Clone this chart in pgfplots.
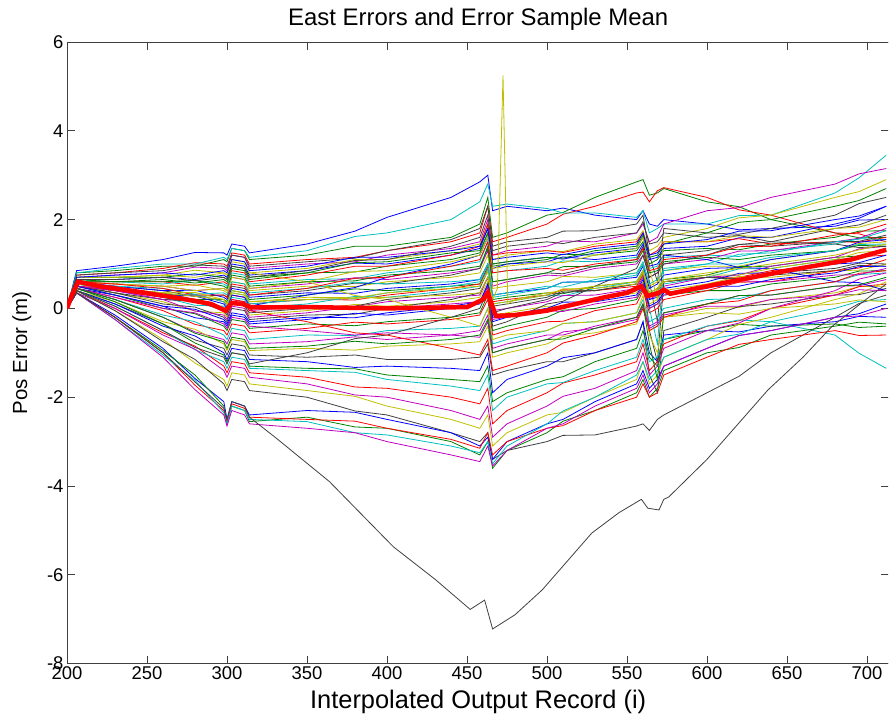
\documentclass[border=0pt]{standalone}
\usepackage{pgfplots}
\pgfplotsset{compat=1.18}
\usepackage{pgfplotstable}
\usepackage{fontspec}
\setmainfont{Liberation Sans}
\definecolor{mb}{rgb}{0,0,1}
\definecolor{mg}{rgb}{0,0.5,0}
\definecolor{mr}{rgb}{1,0,0}
\definecolor{mc}{rgb}{0,0.75,0.75}
\definecolor{mm}{rgb}{0.75,0,0.75}
\definecolor{my}{rgb}{0.75,0.75,0}
\definecolor{mk}{rgb}{0.25,0.25,0.25}
\pgfplotstableread{
id 200 206 230 260 280 298 300 303 311 314 350 380 400 440 458 463 466 475 500 510 530 556 560 564 569 573 600 620 640 680 695 712
L1 0 0.85 0.95 1.1 1.26 1.25 1.2 1.45 1.4 1.25 1.45 1.74 2.05 2.5 2.85 3.0 2.2 2.3 2.2 2.26 2.1 2.0 2.2 1.9 1.85 2.0 1.9 1.77 1.8 1.85 1.99 2.0
L2 0 0.8 0.85 0.95 0.95 1.1 1.05 1.35 1.3 1.1 1.2 1.40 1.4 1.6 1.9 2.5 1.6 1.7 2.1 2.16 2.5 2.85 2.9 2.55 2.6 2.7 2.4 2.29 2.0 1.7 1.59 1.6
L3 0 0.75 0.8 0.9 1.03 1.0 0.95 1.25 1.2 1.0 1.1 1.15 1.3 1.5 1.7 2.3 1.5 1.6 1.9 2.12 2.3 2.6 2.62 2.4 2.65 2.72 2.5 2.22 2.1 1.7 1.68 1.5
L4 0 0.8 0.9 1.0 1.0 1.15 1.1 1.35 1.3 1.15 1.3 1.62 1.7 2.0 2.4 2.8 2.3 2.35 2.25 2.15 2.15 2.05 2.2 1.7 1.8 1.9 1.9 2.09 2.1 2.6 2.94 3.45
L5 0 0.7 0.75 0.8 0.93 0.9 0.85 1.2 1.15 0.9 1.0 1.05 1.2 1.35 1.5 2.0 1.2 1.3 1.4 1.52 1.5 1.7 1.9 1.5 1.6 1.9 2.2 2.27 2.5 2.8 3.03 3.15
L6 0 0.7 0.7 0.75 0.70 0.8 0.75 1.1 1.05 0.8 0.9 1.10 1.1 1.3 1.45 1.9 1.1 1.2 1.3 1.28 1.45 1.55 1.75 1.3 1.4 1.6 1.8 2.04 2.1 2.5 2.63 2.9
L7 0 0.75 0.8 0.85 0.98 0.95 0.9 1.2 1.15 0.95 1.05 1.13 1.3 1.55 1.8 2.3 1.4 1.5 1.6 1.74 1.75 1.9 2.1 1.2 0.6 1.8 1.7 1.67 1.8 2.1 2.36 2.5
L8 0 0.65 0.65 0.7 0.65 0.75 0.7 1.0 0.95 0.75 0.85 1.02 1.0 1.2 1.35 1.8 1.0 1.05 1.15 1.11 1.25 1.35 1.6 1.1 1.15 1.35 1.4 1.59 1.6 1.9 2.03 2.3
L9 0 0.7 0.7 0.7 0.78 0.7 0.65 0.95 0.9 0.7 0.8 0.82 0.95 1.1 1.25 1.7 0.95 1.0 1.1 1.22 1.2 1.3 1.5 1.0 1.1 1.3 1.35 1.32 1.45 1.6 1.74 1.75
L10 0 0.6 0.6 0.6 0.52 0.6 0.55 0.85 0.8 0.6 0.75 0.95 0.95 1.2 1.4 1.9 1.2 1.25 1.3 1.26 1.4 1.5 1.7 1.2 1.3 1.5 1.5 1.57 1.45 1.5 1.49 1.6
L11 0 0.65 0.6 0.55 0.63 0.55 0.5 0.8 0.75 0.55 0.65 0.67 0.8 0.95 1.05 1.5 0.8 0.85 0.95 1.07 1.05 1.15 1.35 0.9 0.95 1.15 1.2 1.17 1.3 1.45 1.57 1.55
L12 0 0.6 0.55 0.5 0.40 0.45 0.4 0.7 0.65 0.45 0.55 0.69 0.65 0.8 0.9 1.3 0.5 0.6 0.75 0.73 0.9 1.0 1.2 0.7 0.8 1.0 1.1 1.29 1.3 1.5 1.58 1.8
L13 0 0.6 0.55 0.5 0.53 0.4 0.35 0.6 0.55 0.4 0.5 0.49 0.6 0.7 0.8 1.2 0.45 0.5 0.6 0.72 0.7 0.8 1.0 0.5 0.6 0.85 0.95 0.95 1.1 1.3 1.46 1.5
L14 0 0.55 0.5 0.4 0.27 0.3 0.25 0.5 0.45 0.3 0.4 0.57 0.55 0.75 0.9 1.4 0.6 0.65 0.8 0.78 0.95 1.1 1.4 0.6 -0.3 1.2 1.3 1.44 1.4 1.5 1.51 1.65
L15 0 0.6 0.5 0.4 0.41 0.25 0.2 0.45 0.4 0.25 0.35 0.34 0.45 0.55 0.65 1.0 0.3 0.35 0.45 0.59 0.6 0.7 0.95 0.45 0.55 0.75 0.9 0.92 1.1 1.3 1.49 1.55
L16 0 0.55 0.45 0.35 0.20 0.2 0.15 0.4 0.35 0.2 0.3 0.44 0.4 0.5 0.55 0.9 0.2 0.25 0.35 0.33 0.5 0.6 0.85 0.35 0.45 0.65 0.75 0.94 0.95 1.15 1.18 1.35
L17 0 0.5 0.45 0.3 0.31 0.15 0.05 0.3 0.25 0.1 0.2 0.19 0.3 0.45 0.55 0.95 0.15 0.2 0.3 0.42 0.4 0.5 0.75 0.3 0.4 0.6 0.7 0.70 0.85 1.0 1.16 1.2
L18 0 0.55 0.4 0.25 0.07 0.05 -0.05 0.25 0.2 0.0 0.1 0.27 0.25 0.4 0.5 0.9 0.1 0.15 0.3 0.28 0.45 0.6 0.85 0.3 0.35 0.55 0.7 0.89 0.9 1.1 1.13 1.3
L19 0 0.5 0.4 0.2 0.18 0.0 -0.1 0.2 0.15 -0.05 0.05 0.04 0.15 0.25 0.3 0.7 -0.05 0.0 0.15 0.29 0.3 0.45 0.7 0.2 0.3 0.5 0.7 0.75 0.95 1.15 1.34 1.4
L20 0 0.5 0.35 0.15 -0.06 -0.1 -0.2 0.1 0.05 -0.15 -0.05 0.09 0.05 0.15 0.25 0.6 -0.15 -0.1 0.05 0.03 0.2 0.35 0.6 0.1 0.2 0.4 0.55 0.72 0.7 0.85 0.86 1.0
L21 0 0.5 0.35 0.1 0.03 -0.2 -0.3 0.0 -0.05 -0.25 -0.15 -0.13 0.0 0.2 0.35 0.7 -0.1 0.0 0.2 0.36 0.4 0.55 0.8 -0.5 -1.2 0.6 0.7 0.65 0.75 0.85 0.97 0.95
L22 0 0.45 0.3 0.05 -0.21 -0.3 -0.4 -0.15 -0.2 -0.35 -0.25 -0.11 -0.15 0.0 0.1 0.5 -0.3 -0.2 0.0 0.0 0.2 0.4 0.65 0.2 0.25 0.45 0.6 0.79 0.8 1.0 1.03 1.2
L23 0 0.5 0.3 0.0 -0.12 -0.4 -0.5 -0.25 -0.3 -0.45 -0.35 -0.39 -0.3 -0.2 -0.1 0.3 -0.5 -0.4 -0.2 -0.04 0.0 0.2 0.45 0.0 0.1 0.3 0.4 0.40 0.55 0.7 0.84 0.85
L24 0 0.45 0.25 -0.05 -0.36 -0.5 -0.6 -0.35 -0.4 -0.55 -0.45 -0.31 -0.35 -0.25 -0.15 0.2 -0.6 -0.5 -0.3 -0.29 -0.05 0.1 0.4 -0.1 0.0 0.2 0.4 0.59 0.6 0.85 0.91 1.1
L25 0 0.45 0.2 -0.15 -0.30 -0.6 -0.7 -0.45 -0.5 -0.7 -0.6 -0.61 -0.5 -0.45 -0.4 0.0 -0.8 -0.7 -0.5 -0.34 -0.3 -0.1 0.2 -0.3 -0.2 0.0 0.2 0.22 0.4 0.6 0.76 0.8
L26 0 0.45 0.2 -0.2 -0.53 -0.7 -0.8 -0.55 -0.6 -0.8 -0.75 -0.64 -0.7 -0.6 -0.5 -0.15 -0.9 -0.8 -0.6 -0.60 -0.4 -0.2 0.1 -0.4 -0.3 -0.1 0.1 0.29 0.3 0.5 0.51 0.65
L27 0 0.4 0.15 -0.3 -0.47 -0.8 -0.95 -0.7 -0.75 -0.95 -0.9 -0.94 -0.85 -0.8 -0.75 -0.4 -1.1 -1.0 -0.8 -0.63 -0.55 -0.35 0.0 -0.5 -0.4 -0.2 0.0 0.02 0.2 0.35 0.49 0.5
L28 0 0.4 0.1 -0.35 -0.71 -0.9 -1.05 -0.8 -0.85 -1.05 -1.1 -1.05 -1.15 -1.15 -1.1 -0.8 -1.5 -1.4 -1.2 -1.20 -1.0 -0.7 -0.3 -1.5 -1.9 -0.5 -0.2 0.04 0.1 0.3 0.31 0.45
L29 0 0.4 0.1 -0.4 -0.62 -1.0 -1.15 -0.9 -0.95 -1.15 -1.2 -1.33 -1.3 -1.35 -1.4 -1.0 -1.9 -1.6 -1.3 -1.11 -1.0 -0.7 -0.3 -1.0 -1.2 -0.6 -0.5 -0.53 -0.4 -0.3 -0.18 -0.2
L30 0 0.45 0.15 -0.35 -0.78 -1.05 -1.2 -1.0 -1.05 -1.3 -1.35 -1.36 -1.5 -1.6 -1.65 -1.3 -2.1 -1.9 -1.6 -1.54 -1.2 -0.9 -0.5 -1.1 -1.3 -0.7 -0.5 -0.36 -0.4 -0.35 -0.43 -0.4
L31 0 0.4 0.0 -0.55 -0.85 -1.3 -1.45 -1.2 -1.25 -1.45 -1.55 -1.77 -1.8 -2.0 -2.15 -1.8 -2.6 -2.3 -1.9 -1.68 -1.5 -1.2 -0.8 -1.4 -1.2 -0.8 -0.4 -0.28 0.0 0.3 0.49 0.55
L32 0 0.4 0.05 -0.5 -0.93 -1.2 -1.35 -1.1 -1.15 -1.35 -1.4 -1.44 -1.6 -1.75 -1.85 -1.5 -2.3 -2.0 -1.7 -1.67 -1.4 -1.1 -0.7 -1.2 -1.1 -0.7 -0.4 -0.26 -0.3 -0.6 -1.01 -1.35
L33 0 0.35 0.0 -0.6 -0.92 -1.4 -1.55 -1.3 -1.35 -1.55 -1.7 -1.95 -2.0 -2.3 -2.5 -2.2 -2.9 -2.6 -2.2 -1.98 -1.8 -1.4 -1.0 -1.5 -1.3 -0.9 -0.5 -0.33 0.0 0.4 0.66 0.8
L34 0 0.4 -0.05 -0.7 -1.23 -1.6 -1.75 -1.45 -1.5 -1.7 -1.85 -1.98 -2.2 -2.5 -2.7 -2.4 -3.1 -2.8 -2.4 -2.34 -2.0 -1.6 -1.2 -1.7 -1.5 -1.1 -0.7 -0.36 -0.2 0.2 0.33 0.6
L35 0 0.4 -0.05 -0.75 -1.15 -1.7 -1.85 -1.6 -1.65 -1.85 -2.0 -2.31 -2.4 -2.8 -3.0 -2.8 -3.4 -3.2 -3.0 -2.86 -2.85 -2.65 -2.6 -2.75 -2.5 -2.4 -1.9 -1.53 -1.0 -0.2 0.11 0.3
L36 0 0.35 -0.15 -0.9 -1.58 -2.1 -2.5 -2.1 -2.2 -2.4 -2.3 -2.34 -2.5 -2.8 -3.1 -2.9 -3.4 -3.0 -2.6 -2.50 -2.1 -1.7 -1.4 -1.8 -1.6 -1.3 -0.9 -0.61 -0.5 -0.2 -0.12 0.1
L37 0 0.35 -0.2 -0.95 -1.50 -2.2 -2.6 -2.2 -2.3 -2.55 -2.45 -2.67 -2.7 -3.0 -3.3 -3.0 -3.6 -3.2 -2.8 -2.54 -2.3 -1.9 -1.6 -2.0 -1.8 -1.4 -1.0 -0.88 -0.6 -0.4 -0.31 -0.35
L38 0 0.35 -0.2 -1.0 -1.73 -2.3 -2.55 -2.15 -2.25 -2.45 -2.5 -2.54 -2.7 -2.95 -3.15 -2.8 -3.3 -3.0 -2.7 -2.64 -2.3 -2.0 -1.7 -2.0 -1.9 -1.5 -1.1 -0.81 -0.7 -0.5 -0.61 -0.6
L39 0 0.35 -0.25 -1.05 -1.62 -2.35 -2.6 -2.2 -2.3 -2.5 -2.55 -2.80 -2.85 -3.1 -3.25 -3.0 -3.5 -3.1 -2.6 -2.31 -2.0 -1.5 -1.2 -1.6 -1.4 -1.1 -0.7 -0.58 -0.3 0.0 0.16 0.2
L40 0 0.35 -0.25 -1.1 -1.83 -2.4 -2.65 -2.3 -2.4 -2.6 -2.7 -2.80 -3.0 -3.3 -3.45 -3.1 -3.55 -3.2 -2.7 -2.60 -2.2 -1.8 -1.5 -1.9 -1.7 -1.3 -0.9 -0.61 -0.5 -0.2 -0.17 0.0
L41 0 0.7 0.7 0.75 0.86 0.8 0.75 1.05 1.0 0.8 0.6 0.29 0.2 -0.2 -0.4 0.0 -0.7 -0.6 -0.5 -0.34 -0.3 -0.1 0.3 -0.6 -1.0 -0.2 -0.1 -0.13 0.0 0.1 0.19 0.15
L42 0 0.4 0.05 -0.5 -0.88 -1.1 -1.25 -1.0 -1.05 -1.25 -1.0 -0.68 -0.6 -0.2 0.0 0.4 -0.4 -0.3 0.1 0.16 0.5 0.9 1.2 0.7 0.8 1.0 1.2 1.44 1.5 1.8 1.88 2.1
L43 0 0.55 0.45 0.3 0.28 0.1 0.0 0.3 0.25 0.05 0.3 0.47 0.7 1.0 1.2 1.6 0.9 1.0 1.05 1.16 1.1 1.2 1.45 0.95 1.0 1.2 1.1 0.92 0.9 0.6 0.58 0.4
L44 0 0.6 0.6 0.65 0.57 0.65 0.6 0.9 0.85 0.65 0.8 1.03 1.05 1.25 1.3 1.7 1.0 1.05 1.15 1.13 1.3 1.4 1.65 1.15 1.2 1.45 1.7 1.94 2.0 2.3 2.43 2.7
L45 0 0.5 0.4 0.25 0.21 0.0 -0.1 0.2 0.15 -0.05 -0.3 -0.55 -0.6 -0.9 -1.05 -0.7 -1.4 -1.3 -1.0 -0.78 -0.6 -0.3 0.0 -0.5 -0.4 -0.2 0.1 0.17 0.4 0.6 0.79 0.85
L46 0 0.55 0.5 0.45 0.32 0.35 0.3 0.6 0.55 0.35 0.45 0.59 0.55 0.6 0.65 1.0 0.3 0.35 0.5 0.48 0.65 0.8 1.05 0.55 0.65 0.85 1.0 1.22 1.25 1.5 1.56 1.75
L47 0 0.45 0.25 0.0 -0.10 -0.35 -0.45 -0.2 -0.25 -0.4 -0.5 -0.60 -0.55 -0.6 -0.65 -0.3 -1.0 -0.9 -0.7 -0.53 -0.45 -0.25 0.05 -0.45 -0.35 -0.15 0.05 0.05 0.2 0.3 0.42 0.4
L48 0 0.6 0.55 0.5 0.40 0.45 0.4 0.7 0.65 0.45 0.6 0.83 0.85 1.05 1.2 1.6 0.9 0.95 1.05 1.03 1.2 1.35 1.6 0.9 0.2 1.5 1.5 1.64 1.6 1.8 1.83 2.0
L49 0 0.5 0.35 0.2 0.16 -0.05 -0.15 0.1 0.05 -0.1 0.0 0.05 0.2 0.35 0.45 0.85 0.05 0.1 0.25 0.39 0.4 0.55 0.8 0.3 0.4 0.6 0.7 0.67 0.8 0.9 1.02 1.0
L50 0 0.7 0.75 0.8 0.75 0.85 0.8 1.1 1.05 0.85 0.95 1.15 1.15 1.3 1.4 1.8 1.1 1.15 1.25 1.21 1.35 1.45 1.7 1.2 1.25 1.45 1.55 1.74 1.75 2.0 2.08 2.3
L51 0 0.65 0.6 0.6 0.63 0.5 0.45 0.75 0.7 0.5 0.6 0.62 0.75 0.85 0.95 1.35 0.6 0.65 0.8 0.94 0.95 1.05 1.3 0.8 0.85 1.05 1.15 1.10 1.2 1.3 1.42 1.4
L52 0 0.6 0.55 0.45 0.30 0.3 0.25 0.55 0.5 0.3 0.45 0.68 0.7 0.95 1.1 1.5 0.8 0.85 0.9 0.86 1.0 1.1 1.35 0.85 0.9 1.1 1.2 1.39 1.4 1.65 1.71 1.9
L53 0 0.55 0.45 0.3 0.31 0.15 0.05 0.35 0.3 0.1 0.2 0.22 0.35 0.5 0.6 1.0 0.25 0.3 0.45 0.59 0.6 0.75 1.0 0.0 -0.8 0.9 1.0 1.0 1.15 1.3 1.44 1.45
L54 0 0.5 0.4 0.2 -0.06 -0.15 -0.25 0.05 0.0 -0.2 -0.1 0.04 0.0 0.1 0.15 0.5 -0.25 -0.2 -0.05 -0.07 0.1 0.25 0.5 0.0 0.1 0.3 0.45 0.62 0.6 0.75 0.76 0.9
L55 0 0.55 0.45 0.35 0.36 0.2 0.1 0.4 0.35 0.15 0.25 0.24 0.35 0.45 0.5 0.85 0.1 0.15 0.3 0.44 0.45 0.55 0.8 0.3 0.4 0.6 0.75 0.75 0.9 1.1 1.26 1.3
L56 0 0.65 0.65 0.7 0.62 0.7 0.65 0.95 0.9 0.7 0.85 1.08 1.1 1.4 1.6 2.1 1.3 1.4 1.5 1.46 1.6 1.7 1.95 1.45 1.5 1.7 1.6 1.64 1.5 1.45 1.37 1.4
L57 0 0.5 0.3 0.05 -0.02 -0.25 -0.35 -0.1 -0.15 -0.3 -0.2 -0.21 -0.1 0.05 0.15 0.55 -0.2 -0.15 0.0 0.14 0.15 0.3 0.55 0.05 0.15 0.35 0.5 0.50 0.65 0.8 0.94 0.95
L58 0 0.45 0.2 -0.2 -0.56 -0.75 -0.9 -0.65 -0.7 -0.9 -0.85 -0.74 -0.8 -0.7 -0.6 -0.25 -1.0 -0.9 -0.7 -0.69 -0.45 -0.2 0.1 -0.8 -1.6 -0.1 0.1 0.29 0.3 0.5 0.53 0.7
}\raw
\pgfplotstabletranspose[colnames from=id]\data\raw
\begin{document}
\begin{tikzpicture}
\useasboundingbox (0,0) rectangle (889bp,721bp);
\clip (0,0) rectangle (888bp,721bp);
\begin{axis}[
  at={(67bp,57.4bp)}, anchor=south west,
  scale only axis, width=822.4bp, height=621.6bp,
  xmin=200, xmax=714, ymin=-8, ymax=6,
  xtick={200,250,...,700},
  xticklabels={200,250,300,350,400,450,500,550,600,650,700},
  ytick={-8,-6,...,6},
  yticklabels={-8,-6,-4,-2,0,2,4,6},
  tick align=inside, major tick length=8bp,
  axis line style={black!75, line width=0.8bp},
  tick style={black!75, line width=0.8bp},
  ticklabel style={font=\fontsize{18.5}{18.5}\selectfont},
  title={East Errors and Error Sample Mean},
  title style={font=\fontsize{24}{24}\selectfont, at={(axis description cs:0.5,1)}, anchor=base, yshift=11bp},
  xlabel={Interpolated Output Record (i)},
  xlabel style={font=\fontsize{25.5}{25.5}\selectfont, at={(axis description cs:0.5,0)}, anchor=base, yshift=-45bp},
  ylabel={Pos Error (m)},
  ylabel style={font=\fontsize{20.5}{20.5}\selectfont, at={(axis description cs:-0.055,0.5)}, anchor=center},
  no markers,
  cycle list={{mb,line width=0.8bp},{mg,line width=0.8bp},{mr,line width=0.8bp},{mc,line width=0.8bp},{mm,line width=0.8bp},{my,line width=0.8bp},{mk,line width=0.8bp}},
]
\pgfplotsinvokeforeach{1,...,58}{\addplot table[x index=0, y index=#1]{\data};}
\addplot[mk, line width=0.8bp] coordinates {(200,0) (206,0.35) (230,-0.2) (260,-1.0) (298,-2.25) (300,-2.5) (303,-2.1) (311,-2.2) (314,-2.45) (330,-2.9) (364,-3.9) (404,-5.37) (430,-6.1) (452,-6.78) (461,-6.57) (466,-7.22) (480,-6.9) (497,-6.34) (528,-5.06) (545,-4.6) (559,-4.3) (563,-4.5) (570,-4.54) (573,-4.3) (576,-4.25) (600,-3.4) (638,-1.84) (660,-1.1) (678,-0.41) (695,0.08) (712,0.55)};
\addplot[my, line width=0.8bp] coordinates {(200,0) (206,0.55) (230,0.45) (260,0.35) (298,0.2) (300,0.1) (303,0.35) (311,0.3) (314,0.15) (350,0.2) (400,0.25) (440,0.3) (458,0.35) (463,0.7) (466,0.2) (469,0.45) (472.5,5.25) (475.5,0.1) (480,0.2) (500,0.35) (530,0.5) (556,0.6) (560,0.85) (564,0.35) (569,0.45) (573,0.65) (600,0.8) (640,1.0) (680,1.2) (712,1.45)};
\addplot[mr, line width=4.5bp] coordinates {(200,0) (203,0.3) (207,0.6) (220,0.5) (240,0.4) (270,0.23) (290,0.1) (299,-0.05) (303,0.12) (310,0.1) (315,0.02) (350,0.03) (400,0.0) (450,0.03) (460,0.2) (463,0.35) (468,-0.17) (480,-0.15) (500,-0.05) (536,0.25) (550,0.35) (559,0.5) (563,0.28) (570,0.35) (573,0.42) (577,0.33) (600,0.5) (650,0.85) (690,1.1) (712,1.32)};
\end{axis}
\end{tikzpicture}
\end{document}
